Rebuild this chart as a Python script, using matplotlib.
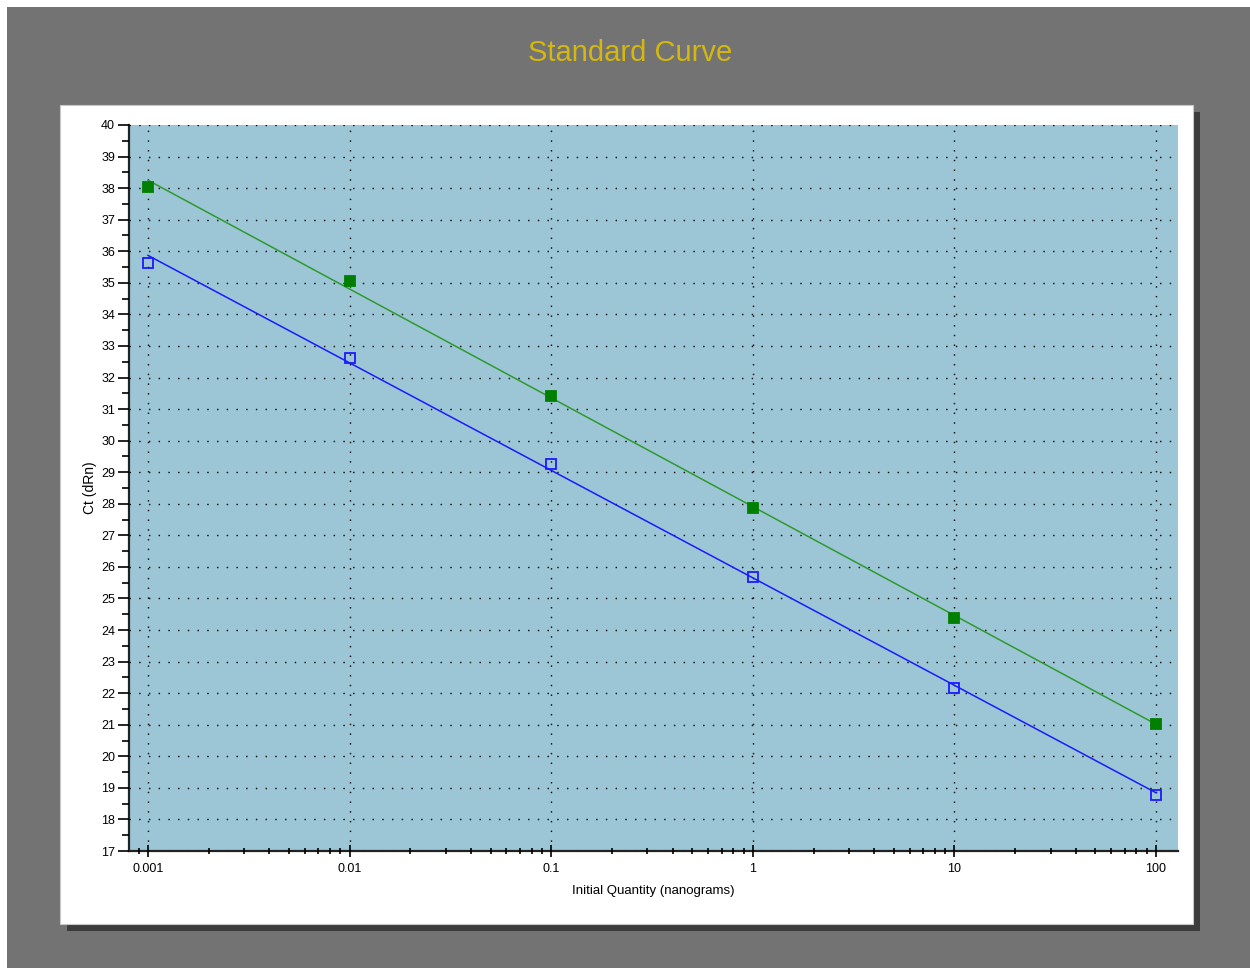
import numpy as np
import matplotlib
matplotlib.use("Agg")
import matplotlib.pyplot as plt
from matplotlib.patches import Rectangle
from matplotlib.ticker import FixedLocator, NullFormatter, MultipleLocator

plt.rcParams['font.family'] = ['Liberation Sans', 'DejaVu Sans']

# initial quantity (ng) and Ct values
quantity = [0.001, 0.01, 0.1, 1, 10, 100]
ct_green = [38.04, 35.06, 31.42, 27.87, 24.38, 21.03]
ct_blue = [35.63, 32.62, 29.26, 25.68, 22.17, 18.78]
x_ticks = [0.001, 0.01, 0.1, 1, 10, 100]
x_tick_labels = ["0.001", "0.01", "0.1", "1", "10", "100"]
y_ticks = list(range(17, 41))

W, H = 1250, 968
fig = plt.figure(figsize=(W / 100, H / 100), dpi=100)
fig.patch.set_facecolor("white")


def px_rect(x0, y0, x1, y1, **kw):
    # rectangle in pixel coords (origin top-left)
    r = Rectangle((x0 / W, 1 - y1 / H), (x1 - x0) / W, (y1 - y0) / H,
                  transform=fig.transFigure, **kw)
    fig.patches.append(r)


px_rect(7, 7, W, H, facecolor="#737373", edgecolor="none", zorder=0)
px_rect(67, 112, 1200, 931, facecolor="#3c3c3c", edgecolor="none", zorder=1)
px_rect(60, 105, 1193, 924, facecolor="white", edgecolor="#c8c8c8", linewidth=0.8, zorder=2)

fig.text(630 / W, 1 - 53 / H, "Standard Curve", color="#d4b80f", fontsize=21,
         ha="center", va="center")

ax = fig.add_axes([129 / W, 1 - 851 / H, (1178 - 129) / W, (851 - 125) / H])
ax.set_facecolor("#9cc6d6")
ax.set_zorder(3)

lx = np.log10(quantity)
xs = np.array([0.001, 100])
for ct, col, line_col, face in [(ct_green, "#007f00", "#2e9a2e", "#007f00"),
                                 (ct_blue, "#1a1aff", "#1a1aff", "none")]:
    k, b = np.polyfit(lx, ct, 1)
    ax.plot(xs, k * np.log10(xs) + b, color=line_col, linewidth=1.1, zorder=3)
    ax.plot(quantity, ct, linestyle="none", marker="s", markersize=7,
            markerfacecolor=face, markeredgecolor=col, markeredgewidth=1.3, zorder=4)

ax.set_xscale("log")
ax.set_xlim(10 ** -3.0942, 10 ** 2.109)
ax.set_ylim(17, 40)
ax.xaxis.set_major_locator(FixedLocator(x_ticks))
ax.set_xticklabels(x_tick_labels)
minors = [m * 10.0 ** e for e in range(-4, 3) for m in range(2, 10)]
ax.xaxis.set_minor_locator(FixedLocator(minors))
ax.xaxis.set_minor_formatter(NullFormatter())
ax.set_yticks(y_ticks)
ax.yaxis.set_minor_locator(MultipleLocator(0.5))

ax.grid(True, which="major", color="black", linestyle=(0, (1, 6)), linewidth=1.0)
ax.set_axisbelow(False)
for s in ["top", "right"]:
    ax.spines[s].set_visible(False)
for s in ["left", "bottom"]:
    ax.spines[s].set_linewidth(1.6)
    ax.spines[s].set_color("#222222")

ax.tick_params(axis="y", which="major", direction="out", length=8, width=1.2, labelsize=9, pad=2)
ax.tick_params(axis="y", which="minor", direction="out", length=5, width=1.2)
ax.tick_params(axis="x", which="major", direction="inout", length=8, width=1.2, labelsize=9, pad=5)
ax.tick_params(axis="x", which="minor", direction="inout", length=5, width=1.2)

ax.set_xlabel("Initial Quantity (nanograms)", fontsize=9.5, labelpad=7)
ax.set_ylabel("Ct (dRn)", fontsize=10, labelpad=3)

fig.savefig("out.png", dpi=100)
